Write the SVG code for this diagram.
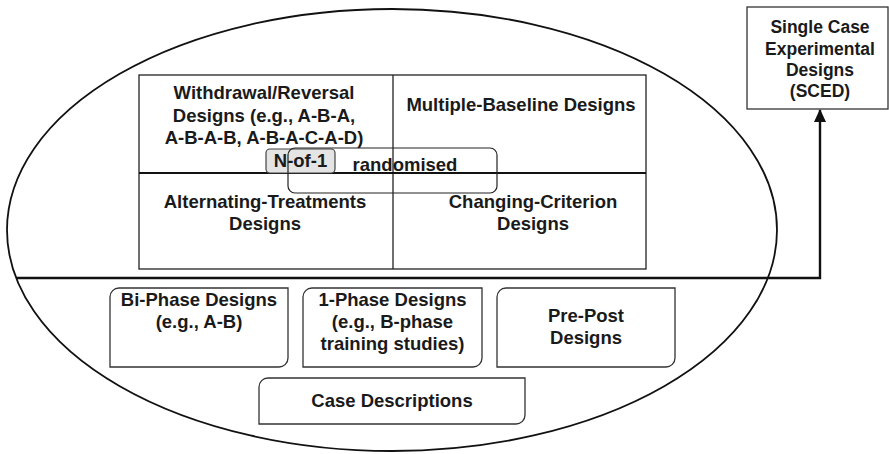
<svg xmlns="http://www.w3.org/2000/svg" width="889" height="454" viewBox="0 0 889 454">
  <defs>
    <style>
      .lbl { font-family: "Liberation Sans", Arial, Helvetica, sans-serif; font-weight: bold; font-size: 18.5px; fill: #1a1a1a; text-anchor: middle; }
      .sm { font-size: 17.5px; }
      .ln { fill: none; stroke: #222; stroke-width: 1.3; }
      .box { fill: #fff; stroke: #333; stroke-width: 1.3; }
      .conn { fill: none; stroke: #111; stroke-width: 2.4; }
    </style>
    <!-- filled triangle head, drawn along +x so orient="auto" turns it with the path -->
    <marker id="arrowHead" viewBox="0 0 13 12" refX="12" refY="6" markerWidth="13" markerHeight="12" markerUnits="userSpaceOnUse" orient="auto">
      <path d="M0,0 L13,6 L0,12 Z" fill="#111"/>
    </marker>
  </defs>
  <rect width="889" height="454" fill="#fff"/>

  <!-- outer ellipse -->
  <g id="ellipse">
    <ellipse cx="392" cy="230" rx="385" ry="221" fill="none" stroke="#111" stroke-width="1.8"/>
  </g>

  <!-- 2x2 grid of experimental designs -->
  <g id="grid">
    <rect x="139" y="75" width="507" height="194" class="ln"/>
    <line x1="393" y1="75" x2="393" y2="269" class="ln"/>
    <line x1="139" y1="173" x2="646" y2="173" stroke="#111" stroke-width="2"/>
  </g>

  <g id="withdrawal">
    <text class="lbl" x="264" y="99">Withdrawal/Reversal</text>
    <text class="lbl" x="264" y="121.5">Designs (e.g., A-B-A,</text>
    <text class="lbl" x="264" y="143.5">A-B-A-B, A-B-A-C-A-D)</text>
  </g>
  <g id="multiple-baseline">
    <text class="lbl" x="521" y="110.5">Multiple-Baseline Designs</text>
  </g>
  <g id="alternating">
    <text class="lbl" x="265" y="208">Alternating-Treatments</text>
    <text class="lbl" x="265" y="230">Designs</text>
  </g>
  <g id="changing-criterion">
    <text class="lbl" x="533" y="208">Changing-Criterion</text>
    <text class="lbl" x="533" y="230">Designs</text>
  </g>

  <g id="n-of-1">
    <rect x="266" y="149" width="69" height="24" rx="4" fill="#e4e4e4" stroke="#444" stroke-width="1.2"/>
    <text class="lbl" x="300.5" y="167">N-of-1</text>
  </g>
  <g id="randomised">
    <rect x="288" y="148" width="209" height="45" rx="7" fill="none" stroke="#222" stroke-width="1.2"/>
    <text class="lbl" x="405" y="170.5">randomised</text>
  </g>

  <!-- lower designs (non-experimental) -->
  <g id="bi-phase">
    <path class="box" d="M119,288 H288 V358 A9,9 0 0 1 279,367 H110 V297 A9,9 0 0 1 119,288 Z"/>
    <text class="lbl" x="199" y="306">Bi-Phase Designs</text>
    <text class="lbl" x="199" y="328">(e.g., A-B)</text>
  </g>
  <g id="one-phase">
    <path class="box" d="M312,288 H482 V358 A9,9 0 0 1 473,367 H303 V297 A9,9 0 0 1 312,288 Z"/>
    <text class="lbl" x="392.5" y="306">1-Phase Designs</text>
    <text class="lbl" x="392.5" y="328">(e.g., B-phase</text>
    <text class="lbl" x="392.5" y="350">training studies)</text>
  </g>
  <g id="pre-post">
    <path class="box" d="M506,288 H675 V358 A9,9 0 0 1 666,367 H497 V297 A9,9 0 0 1 506,288 Z"/>
    <text class="lbl" x="586" y="322">Pre-Post</text>
    <text class="lbl" x="586" y="344">Designs</text>
  </g>
  <g id="case-descriptions">
    <path class="box" d="M268,378 H525 V415 A9,9 0 0 1 516,424 H259 V387 A9,9 0 0 1 268,378 Z"/>
    <text class="lbl" x="392" y="407">Case Descriptions</text>
  </g>

  <g id="sced">
    <rect x="747" y="7" width="141" height="102" fill="#fff" stroke="#333" stroke-width="1.3"/>
    <text class="lbl sm" x="820" y="33">Single Case</text>
    <text class="lbl sm" x="820" y="54.5">Experimental</text>
    <text class="lbl sm" x="820" y="76">Designs</text>
    <text class="lbl sm" x="820" y="97">(SCED)</text>
  </g>

  <!-- divider running into the SCED box -->
  <g id="connectors">
    <path class="conn" d="M16,278 H820 V110" marker-end="url(#arrowHead)"/>
  </g>
</svg>
